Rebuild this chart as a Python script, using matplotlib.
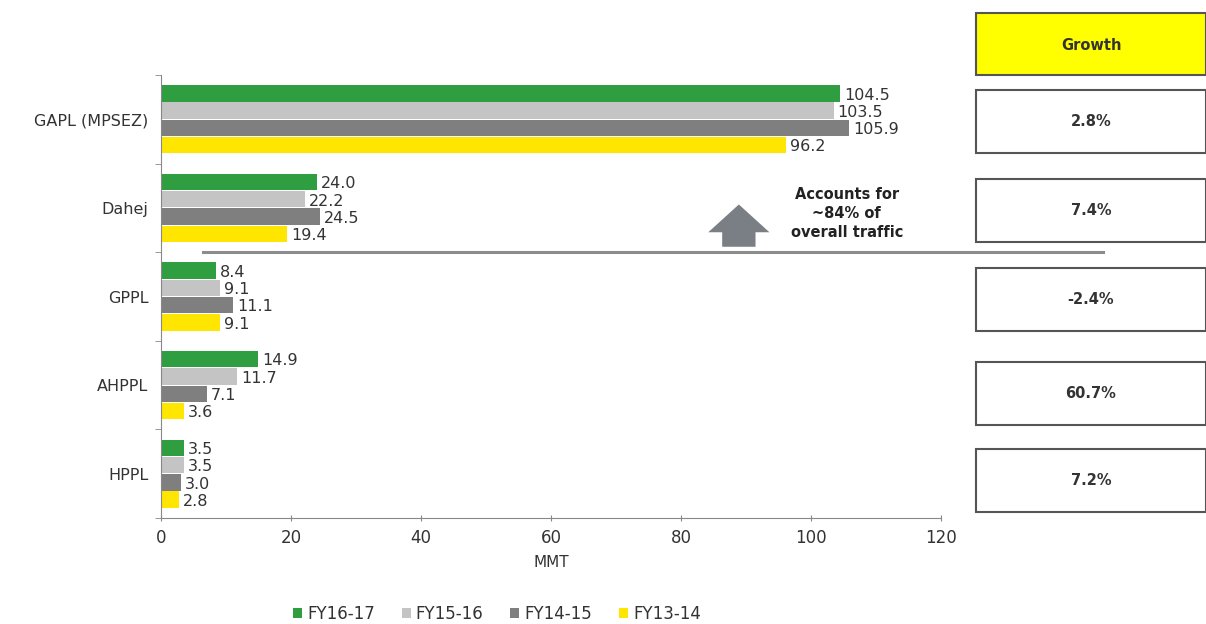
import numpy as np
import matplotlib
matplotlib.use('Agg')
import matplotlib.pyplot as plt
from matplotlib.patches import Rectangle

# Data (MMT)
ports = ['GAPL (MPSEZ)', 'Dahej', 'GPPL', 'AHPPL', 'HPPL']
years = ['FY16-17', 'FY15-16', 'FY14-15', 'FY13-14']
fy1617 = [104.5, 24.0, 8.4, 14.9, 3.5]
fy1516 = [103.5, 22.2, 9.1, 11.7, 3.5]
fy1415 = [105.9, 24.5, 11.1, 7.1, 3.0]
fy1314 = [96.2, 19.4, 9.1, 3.6, 2.8]
growth = ['2.8%', '7.4%', '-2.4%', '60.7%', '7.2%']

colors = ['#2f9e41', '#c4c4c4', '#7f7f7f', '#ffe600']
text_col = '#333333'

fig = plt.figure(figsize=(12.06, 6.24), dpi=100)
W, H = 1206, 624
ax = fig.add_axes([161 / W, 1 - 518 / H, 780 / W, 443 / H])

series = [fy1617, fy1516, fy1415, fy1314]
bw = 0.195
y = np.arange(len(ports))
for k, (vals, c) in enumerate(zip(series, colors)):
    pos = y + (k - 1.5) * bw
    ax.barh(pos, vals, height=bw * 0.95, color=c, label=years[k])
    for p, v in zip(pos, vals):
        ax.text(v + 0.6, p + 0.02, f'{v:.1f}', va='center', ha='left',
                fontsize=11.5, color=text_col)

ax.set_xlim(0, 120)
ax.set_ylim(len(ports) - 0.5, -0.5)
ax.set_xticks(np.arange(0, 121, 20))
ax.set_yticks(y)
ax.set_yticklabels(ports, fontsize=11.5, color=text_col)
ax.set_yticks(np.arange(-0.5, len(ports), 1), minor=True)
ax.tick_params(axis='y', which='major', length=0, pad=9)
ax.tick_params(axis='y', which='minor', length=4, color='#888888')
ax.tick_params(axis='x', length=4, direction='inout', color='#888888',
               labelsize=12, labelcolor=text_col, pad=6)
for s in ['top', 'right']:
    ax.spines[s].set_visible(False)
for s in ['left', 'bottom']:
    ax.spines[s].set_color('#888888')
ax.set_xlabel('MMT', fontsize=11, color=text_col, labelpad=6)

# separator line below the top two ports
ax.plot([6.5, 144.9], [1.5, 1.5], color='#8c8c8c', lw=2.2, clip_on=False)

# arrow + note
ax.annotate('', xy=(88.9, 0.93), xytext=(88.9, 1.47),
            arrowprops=dict(arrowstyle='simple,head_length=1.0,head_width=2.2,tail_width=1.2',
                            mutation_scale=20, color='#7a7f86', lw=0))
ax.text(105.5, 1.06, 'Accounts for\n~84% of\noverall traffic', ha='center', va='center',
        fontsize=10.5, color='#222222', fontweight='semibold', linespacing=1.35)

# growth boxes on the right
x0 = 976 / W
bwid = (W - 976) / W
fig.add_artist(Rectangle((x0, 1 - 75 / H), bwid, 62 / H, transform=fig.transFigure,
                         facecolor='#ffff00', edgecolor='#555555', lw=1.5))
fig.text(x0 + bwid / 2, 1 - 45 / H, 'Growth', ha='center', va='center',
         fontsize=10.5, fontweight='bold', color='#333333')
box_top = [90, 179, 268, 362, 449]
for t, g in zip(box_top, growth):
    fig.add_artist(Rectangle((x0, 1 - (t + 63) / H), bwid, 63 / H, transform=fig.transFigure,
                             facecolor='white', edgecolor='#555555', lw=1.5))
    fig.text(x0 + bwid / 2, 1 - (t + 31.5) / H, g, ha='center', va='center',
             fontsize=10.5, fontweight='bold', color='#333333')

# legend
handles, labels = ax.get_legend_handles_labels()
fig.legend(handles, labels, loc='center', bbox_to_anchor=(497 / W, 1 - 614 / H), ncol=4,
           frameon=False, fontsize=12, handlelength=0.55, handleheight=0.55,
           handletextpad=0.3, columnspacing=1.6, labelcolor=text_col)

fig.savefig('out.png', dpi=100)
